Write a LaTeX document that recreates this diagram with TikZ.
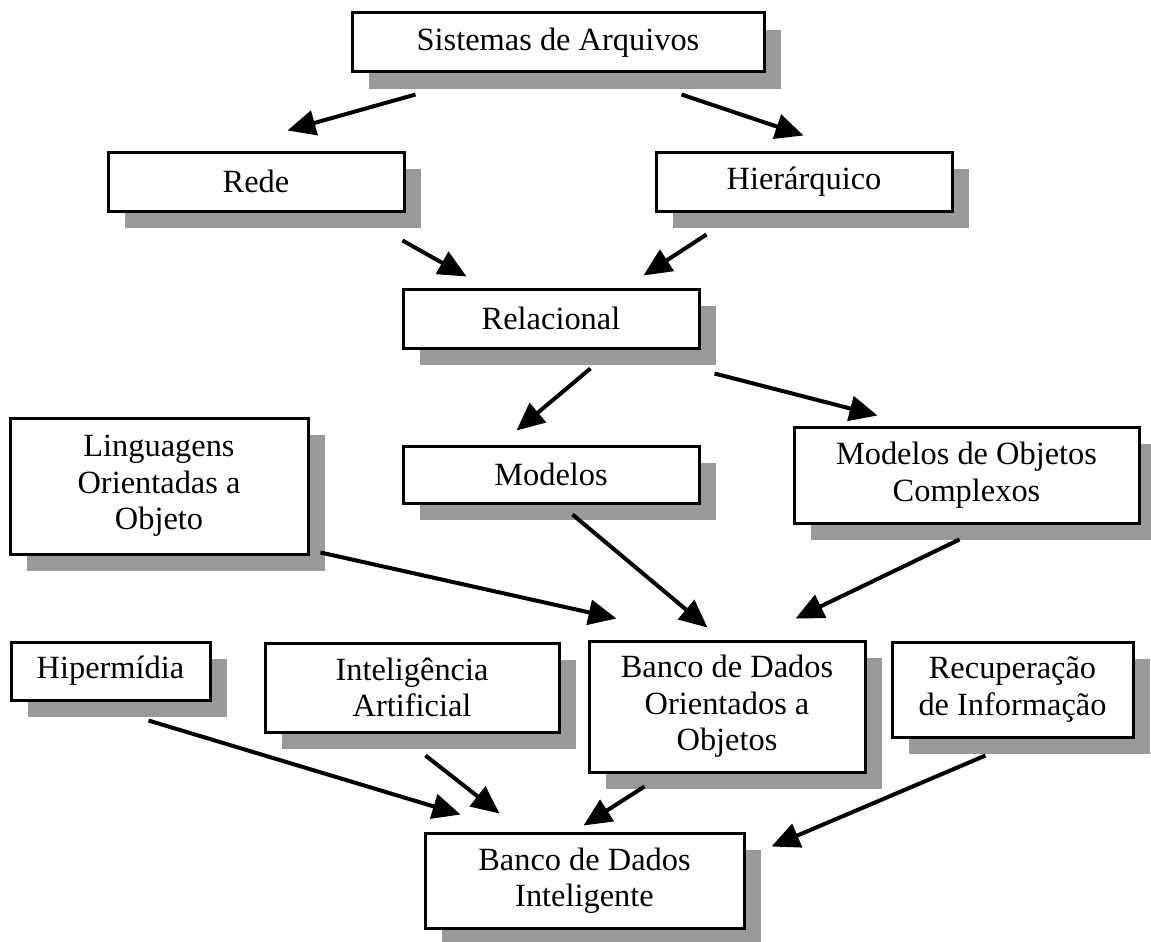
\documentclass[tikz,border=0pt]{standalone}
\usepackage{fontspec}
\setmainfont{Liberation Serif}
\usetikzlibrary{arrows.meta,shadows}

\tikzset{
  box/.style={draw=black, line width=3pt, fill=white, inner sep=0pt,
    align=center, font=\fontsize{32.4}{36.5}\selectfont,
    drop shadow={shadow xshift=17pt, shadow yshift=-17pt,
                 fill=black!40, opacity=1}},
  arr/.style={line width=4pt, -{Triangle[length=28pt,width=25pt]}},
}

\begin{document}
\begin{tikzpicture}[x=1pt,y=-1pt]
\useasboundingbox (0,0) rectangle (1151,942);

% boxes (centre, width, height)
\node[box, minimum width=412pt, minimum height=59pt] (sist) at (558,42.5) {Sistemas de Arquivos};
\node[box, minimum width=296pt, minimum height=59pt] (rede) at (256,181.5) {Rede};
\node[box, minimum width=296pt, minimum height=59pt] (hier) at (804,181.5) {Hierárquico};
\node[box, minimum width=296pt, minimum height=59pt] (rel)  at (551,318.5) {Relacional};
\node[box, minimum width=298pt, minimum height=136pt] (ling) at (159,486)
      {Linguagens\\Orientadas a\\Objeto};
\node[box, minimum width=296pt, minimum height=57pt] (mod)  at (551,474.5) {Modelos};
\node[box, minimum width=345pt, minimum height=96pt] (moc)  at (966.5,475)
      {Modelos de Objetos\\Complexos};
\node[box, minimum width=199pt, minimum height=58pt] (hiper) at (110.5,671) {Hipermídia};
\node[box, minimum width=294pt, minimum height=89pt] (ia)   at (412,687.5)
      {Inteligência\\Artificial};
\node[box, minimum width=276pt, minimum height=131pt] (boo) at (727,706.5)
      {Banco de Dados\\Orientados a\\Objetos};
\node[box, minimum width=241pt, minimum height=95pt] (rec)  at (1012.5,689.5)
      {Recuperação\\de Informação};
\node[box, minimum width=319pt, minimum height=95pt] (bdi)  at (584.5,880.5)
      {Banco de Dados\\Inteligente};

% connectors
\draw[arr] ([shift={(65,21)}]sist.south west)  -- ([shift={(181,-20)}]rede.north west);
\draw[arr] ([shift={(331,21)}]sist.south west) -- ([shift={(149,-15)}]hier.north west);
\draw[arr] ([shift={(-3,28)}]rede.south east)  -- ([shift={(65,-11)}]rel.north west);
\draw[arr] ([shift={(52,22)}]hier.south west)  -- ([shift={(-57,-12)}]rel.north east);
\draw[arr] ([shift={(189,19)}]rel.south west)  -- ([shift={(115,-14)}]mod.north west);
\draw[arr] ([shift={(14,24)}]rel.south east)   -- ([shift={(85,-10)}]moc.north west);
\draw[arr] ([shift={(11,-3)}]ling.south east)  -- ([shift={(29,-21)}]boo.north west);
\draw[arr] ([shift={(171,10)}]mod.south west)  -- ([shift={(120,-12)}]boo.north west);
\draw[arr] ([shift={(167,15)}]moc.south west)  -- ([shift={(208,-21)}]boo.north west);
\draw[arr] ([shift={(139,19)}]hiper.south west) -- ([shift={(37,-17)}]bdi.north west);
\draw[arr] ([shift={(162,22)}]ia.south west)   -- ([shift={(76,-18)}]bdi.north west);
\draw[arr] ([shift={(57,13)}]boo.south west)   -- ([shift={(160,-6)}]bdi.north west);
\draw[arr] ([shift={(95,17)}]rec.south west)   -- ([shift={(26,15)}]bdi.north east);
\end{tikzpicture}
\end{document}
